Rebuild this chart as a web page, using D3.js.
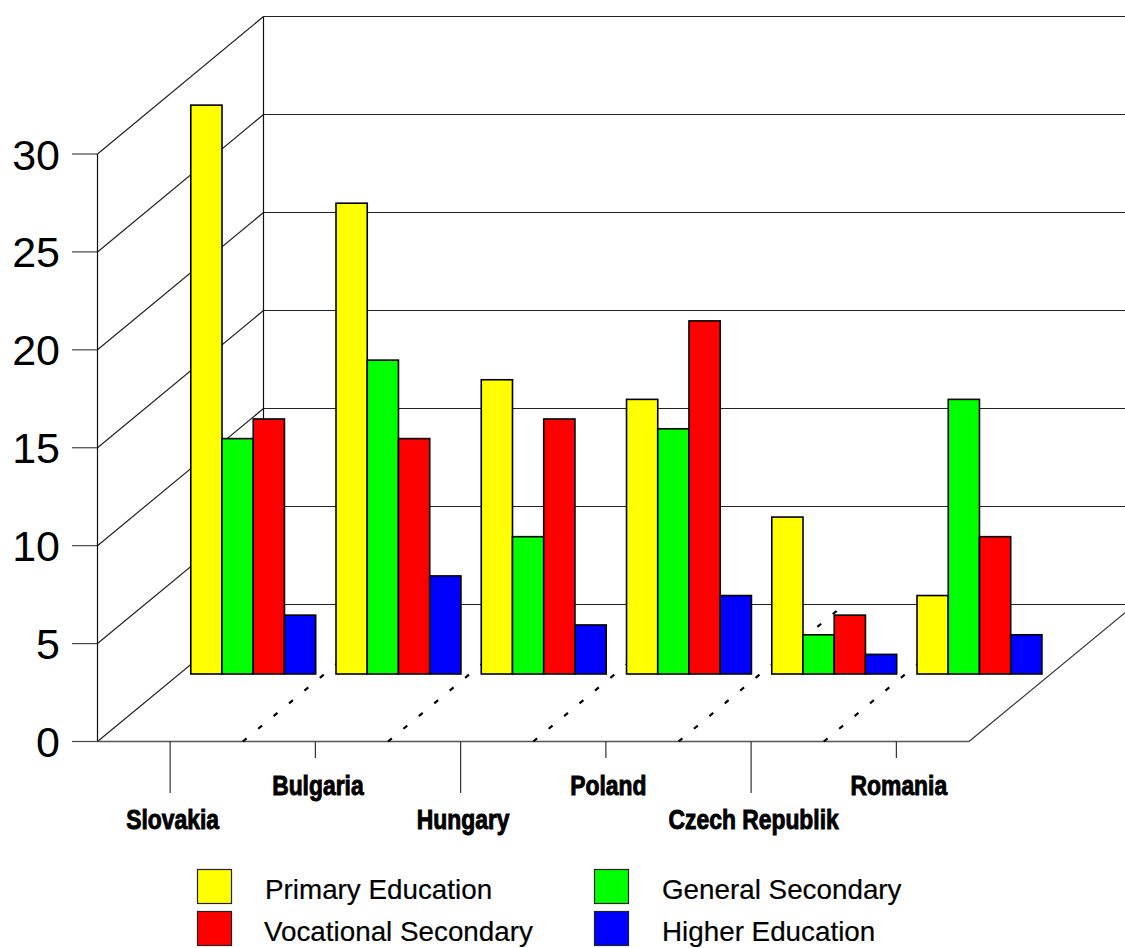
<!DOCTYPE html>
<html>

<head>
    <meta charset="utf-8">
    <script src="https://d3js.org/d3.v7.min.js"></script>
    <style>
        html, body { margin: 0; padding: 0; background: white; overflow: hidden; }
        text { font-family: "Liberation Sans", Arial, sans-serif; fill: black; }
    </style>
</head>

<body>
</body>

<script>
    let categories = ["Slovakia", "Bulgaria", "Hungary", "Poland", "Czech Republik", "Romania"];
    let seriesNames = ["Primary Education", "General Secondary", "Vocational Secondary", "Higher Education"];
    let primary = [29, 24, 15, 14, 8, 4];
    let general = [12, 16, 7, 12.5, 2, 14];
    let vocational = [13, 12, 13, 18, 3, 7];
    let higher = [3, 5, 2.5, 4, 1, 2];
    let yTicks = [0, 5, 10, 15, 20, 25, 30];
    let colors = ["#ffff00", "#00ff00", "#ff0000", "#0000ff"];

    let series = [primary, general, vocational, higher];

    let width = 1125, height = 948;

    let svg = d3.select("body")
        .append("svg")
        .attr("width", width)
        .attr("height", height);

    // 3d box: front edge, plane of the bars, back wall
    let yFront = d3.scaleLinear().domain([0, 30]).range([741.5, 154]);
    let yBack = d3.scaleLinear().domain([0, 30]).range([604.5, 16.5]);
    let yBars = d3.scaleLinear().domain([0, 30]).range([674, 85.5]);

    let xFront = d3.scaleBand().domain(categories).range([97.5, 969]);
    let depthX = 166;
    let backLeft = 97.5 + depthX;
    let depthY = yFront(0) - yBack(0);

    let x0 = d3.scaleBand().domain(categories).range([181, 1052.5])
        .paddingInner(0.14).paddingOuter(0.07);
    let x1 = d3.scaleBand().domain(seriesNames).range([0, x0.bandwidth()]);

    // back wall and side wall
    svg.append("g").selectAll("line")
        .data(yTicks)
        .join("line")
        .attr("x1", backLeft).attr("x2", width)
        .attr("y1", d => yBack(d)).attr("y2", d => yBack(d))
        .attr("stroke", "#222").attr("stroke-width", 1.2);

    svg.append("g").selectAll("line")
        .data(yTicks)
        .join("line")
        .attr("x1", 97.5).attr("x2", backLeft)
        .attr("y1", d => yFront(d)).attr("y2", d => yBack(d))
        .attr("stroke", "#222").attr("stroke-width", 1.2);

    // left axis ticks
    svg.append("g").selectAll("line")
        .data(yTicks)
        .join("line")
        .attr("x1", 72).attr("x2", 97.5)
        .attr("y1", d => yFront(d)).attr("y2", d => yFront(d))
        .attr("stroke", "#444").attr("stroke-width", 1.2);

    svg.append("g").selectAll("text")
        .data(yTicks)
        .join("text")
        .attr("x", 60)
        .attr("y", d => yFront(d) + 15.5)
        .attr("text-anchor", "end")
        .attr("font-size", 43)
        .text(d => d);

    svg.append("line").attr("x1", 97.5).attr("x2", 97.5)
        .attr("y1", yFront(30)).attr("y2", yFront(0))
        .attr("stroke", "#111").attr("stroke-width", 1.2);
    svg.append("line").attr("x1", backLeft).attr("x2", backLeft)
        .attr("y1", yBack(30)).attr("y2", yBack(0))
        .attr("stroke", "#111").attr("stroke-width", 1.2);

    // floor
    svg.append("line").attr("x1", 97.5).attr("x2", 969)
        .attr("y1", yFront(0)).attr("y2", yFront(0))
        .attr("stroke", "#555").attr("stroke-width", 1.4);
    svg.append("line").attr("x1", 969).attr("x2", 969 + depthX)
        .attr("y1", yFront(0)).attr("y2", yBack(0))
        .attr("stroke", "#333").attr("stroke-width", 1.2);

    // dashed category separators on the floor
    svg.append("g").selectAll("line")
        .data(categories.slice(1))
        .join("line")
        .attr("x1", d => xFront(d)).attr("y1", yFront(0))
        .attr("x2", d => xFront(d) + depthX).attr("y2", yFront(0) - depthY)
        .attr("stroke", "black").attr("stroke-width", 2.2)
        .attr("stroke-dasharray", "5,15");

    // category ticks and labels, staggered on two rows
    svg.append("g").selectAll("line")
        .data(categories)
        .join("line")
        .attr("x1", d => xFront(d) + xFront.bandwidth() / 2)
        .attr("x2", d => xFront(d) + xFront.bandwidth() / 2)
        .attr("y1", yFront(0))
        .attr("y2", (d, i) => i % 2 ? 758 : 793)
        .attr("stroke", "#333").attr("stroke-width", 1.2);

    // the original labels are narrow and heavy, so squeeze the bold face
    svg.append("g").selectAll("text")
        .data(categories)
        .join("text")
        .attr("transform", (d, i) => `translate(${xFront(d) + xFront.bandwidth() / 2 + 2.5},${i % 2 ? 795 : 829}) scale(0.88,1.04)`)
        .attr("text-anchor", "middle")
        .attr("font-size", 26)
        .attr("font-weight", "bold")
        .attr("stroke", "black")
        .attr("stroke-width", 0.9)
        .text(d => d);

    // bars
    let groups = svg.append("g").selectAll("g")
        .data(categories)
        .join("g")
        .attr("transform", d => `translate(${x0(d)},0)`);

    groups.selectAll("rect")
        .data((d, i) => seriesNames.map((name, k) => ({name: name, value: series[k][i], color: colors[k]})))
        .join("rect")
        .attr("x", d => x1(d.name) - 0.4)
        .attr("y", d => yBars(d.value))
        .attr("width", x1.bandwidth())
        .attr("height", d => yBars(0) - yBars(d.value))
        .attr("fill", d => d.color)
        .attr("stroke", "black")
        .attr("stroke-width", 1.6);

    // legend
    let legendX = d3.scaleOrdinal().domain(seriesNames).range([197.5, 594.5, 197.5, 594.5]);
    let legendTextX = d3.scaleOrdinal().domain(seriesNames).range([265, 662, 264, 662]);
    let legendY = d3.scaleOrdinal().domain(seriesNames).range([869.5, 869.5, 911.5, 911.5]);

    svg.append("g").selectAll("rect")
        .data(seriesNames)
        .join("rect")
        .attr("x", d => legendX(d))
        .attr("y", d => legendY(d))
        .attr("width", 34)
        .attr("height", 34)
        .attr("fill", (d, i) => colors[i])
        .attr("stroke", "#222")
        .attr("stroke-width", 1.2);

    svg.append("g").selectAll("text")
        .data(seriesNames)
        .join("text")
        .attr("x", d => legendTextX(d))
        .attr("y", d => legendY(d) + 29)
        .attr("font-size", 27.8)
        .attr("stroke", "black")
        .attr("stroke-width", 0.2)
        .text(d => d);
</script>

</html>
